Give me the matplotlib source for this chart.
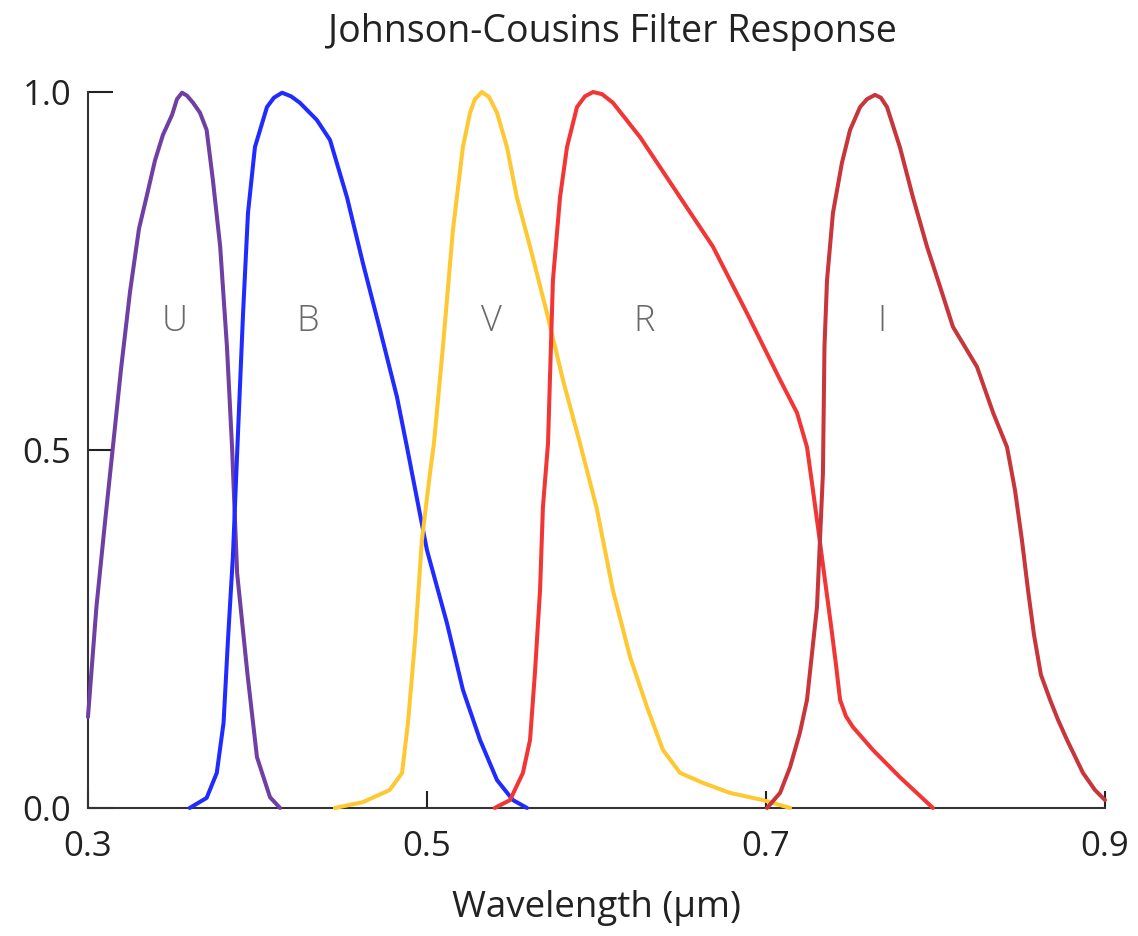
import matplotlib
matplotlib.use("Agg")
import matplotlib.pyplot as plt

plt.rcParams['font.family'] = ['Open Sans', 'DejaVu Sans']

# === Filter transmission curves (wavelength in micron, normalised response) ===
u_wl = [0.300, 0.305, 0.310, 0.3147, 0.3195, 0.3248, 0.3301, 0.3348, 0.3395, 0.3442,
        0.3496, 0.3525, 0.3555, 0.3584, 0.362, 0.3661, 0.370, 0.3737, 0.378, 0.382,
        0.385, 0.388, 0.394, 0.3997, 0.4074, 0.4133]
u_resp = [0.127, 0.281, 0.398, 0.504, 0.613, 0.721, 0.809, 0.856, 0.904, 0.940,
          0.968, 0.990, 0.999, 0.995, 0.985, 0.971, 0.947, 0.877, 0.784, 0.644,
          0.504, 0.328, 0.189, 0.071, 0.015, 0.0]

b_wl = [0.360, 0.370, 0.376, 0.380, 0.3826, 0.3855, 0.388, 0.3915, 0.3944, 0.3985,
        0.4056, 0.4097, 0.4145, 0.4198, 0.425, 0.435, 0.4428, 0.4528, 0.4622, 0.4723,
        0.4823, 0.4882, 0.500, 0.5118, 0.5212, 0.5313, 0.5413, 0.5507, 0.559]
b_resp = [0.0, 0.014, 0.049, 0.119, 0.235, 0.351, 0.495, 0.691, 0.831, 0.923,
          0.979, 0.992, 0.999, 0.994, 0.985, 0.961, 0.933, 0.853, 0.761, 0.668,
          0.574, 0.504, 0.360, 0.258, 0.165, 0.095, 0.039, 0.011, 0.0]

v_wl = [0.4457, 0.462, 0.478, 0.4853, 0.4888, 0.493, 0.497, 0.5018, 0.5041, 0.5094,
        0.5153, 0.5212, 0.5254, 0.5283, 0.5324, 0.5366, 0.5413, 0.5472, 0.553, 0.5608,
        0.5708, 0.5802, 0.5903, 0.600, 0.6097, 0.6198, 0.6298, 0.6392, 0.6493, 0.6628,
        0.6788, 0.6982, 0.7142]
v_resp = [0.0, 0.008, 0.025, 0.049, 0.119, 0.235, 0.374, 0.468, 0.509, 0.644,
          0.807, 0.923, 0.971, 0.990, 1.0, 0.993, 0.971, 0.923, 0.853, 0.784,
          0.691, 0.598, 0.509, 0.420, 0.304, 0.211, 0.141, 0.081, 0.049, 0.035,
          0.021, 0.011, 0.0]

r_wl = [0.540, 0.549, 0.5566, 0.5608, 0.5637, 0.5667, 0.5684, 0.5714, 0.5743, 0.5785,
        0.5826, 0.5885, 0.5932, 0.598, 0.6033, 0.6097, 0.6257, 0.6493, 0.6687, 0.6888,
        0.7083, 0.7183, 0.7242, 0.7277, 0.7313, 0.7348, 0.7383, 0.7413, 0.7437, 0.7472,
        0.7513, 0.7631, 0.779, 0.7985]
r_resp = [0.0, 0.011, 0.049, 0.095, 0.189, 0.304, 0.420, 0.509, 0.737, 0.853,
          0.923, 0.979, 0.994, 1.0, 0.997, 0.985, 0.937, 0.853, 0.784, 0.691,
          0.598, 0.552, 0.504, 0.444, 0.381, 0.318, 0.256, 0.200, 0.151, 0.128,
          0.113, 0.081, 0.043, 0.0]

i_wl = [0.7006, 0.7083, 0.7142, 0.720, 0.7242, 0.7301, 0.7336, 0.7345, 0.7360, 0.7395,
        0.7448, 0.7496, 0.7555, 0.7596, 0.7643, 0.7678, 0.7714, 0.779, 0.7867, 0.795,
        0.8027, 0.8103, 0.8245, 0.834, 0.8422, 0.8469, 0.8510, 0.8546, 0.8581, 0.8622,
        0.8676, 0.8723, 0.8776, 0.887, 0.8941, 0.900]
i_resp = [0.0, 0.021, 0.057, 0.105, 0.151, 0.281, 0.468, 0.644, 0.737, 0.831,
          0.901, 0.947, 0.979, 0.990, 0.996, 0.992, 0.979, 0.923, 0.853, 0.784,
          0.728, 0.672, 0.616, 0.552, 0.504, 0.444, 0.374, 0.304, 0.242, 0.186,
          0.151, 0.123, 0.095, 0.049, 0.025, 0.011]

band_names = ['U', 'B', 'V', 'R', 'I']
band_colors = ['#6f3fa3', '#1f2bff', '#fdc832', '#f23535', '#c8353a']
label_x = [0.3513, 0.4298, 0.5383, 0.628, 0.7684]
label_y = 0.68

curves = [(u_wl, u_resp), (b_wl, b_resp), (v_wl, v_resp), (r_wl, r_resp), (i_wl, i_resp)]

# === Plotting ===
fig = plt.figure(figsize=(11.38, 9.36), dpi=100)
ax = fig.add_axes([0.0773, 0.1368, 0.8937, 0.7649])

for (wl, resp), color in zip(curves, band_colors):
    ax.plot(wl, resp, color=color, lw=2.9, solid_joinstyle='round',
            solid_capstyle='round', clip_on=False, zorder=3)

for name, lx in zip(band_names, label_x):
    ax.text(lx, label_y, name, color='#6a6a6a', fontsize=26, fontweight='light',
            ha='center', va='center')

ax.set_xlim(0.3, 0.9)
ax.set_ylim(0.0, 1.0)
ax.set_xticks([0.3, 0.5, 0.7, 0.9])
ax.set_xticklabels(['0.3', '0.5', '0.7', '0.9'])
ax.set_yticks([0.0, 0.5, 1.0])
ax.set_yticklabels(['0.0', '0.5', '1.0'])

for side in ['top', 'right']:
    ax.spines[side].set_visible(False)
for side in ['left', 'bottom']:
    ax.spines[side].set_linewidth(1.5)
    ax.spines[side].set_color('#333333')

ax.tick_params(axis='x', direction='in', length=12, width=1.5, color='#222222',
               labelsize=25, labelcolor='#222222', pad=16)
ax.tick_params(axis='y', direction='in', length=18, width=1.5, color='#222222',
               labelsize=25, labelcolor='#222222', pad=12)

ax.set_xlabel('Wavelength (µm)', fontsize=26.5, color='#222222', va='center')
ax.xaxis.set_label_coords(0.5, -0.14)
fig.text(0.538, 0.955, 'Johnson-Cousins Filter Response', fontsize=27,
         color='#222222', ha='center', va='baseline')

fig.savefig('out.png', dpi=100, facecolor='white')
